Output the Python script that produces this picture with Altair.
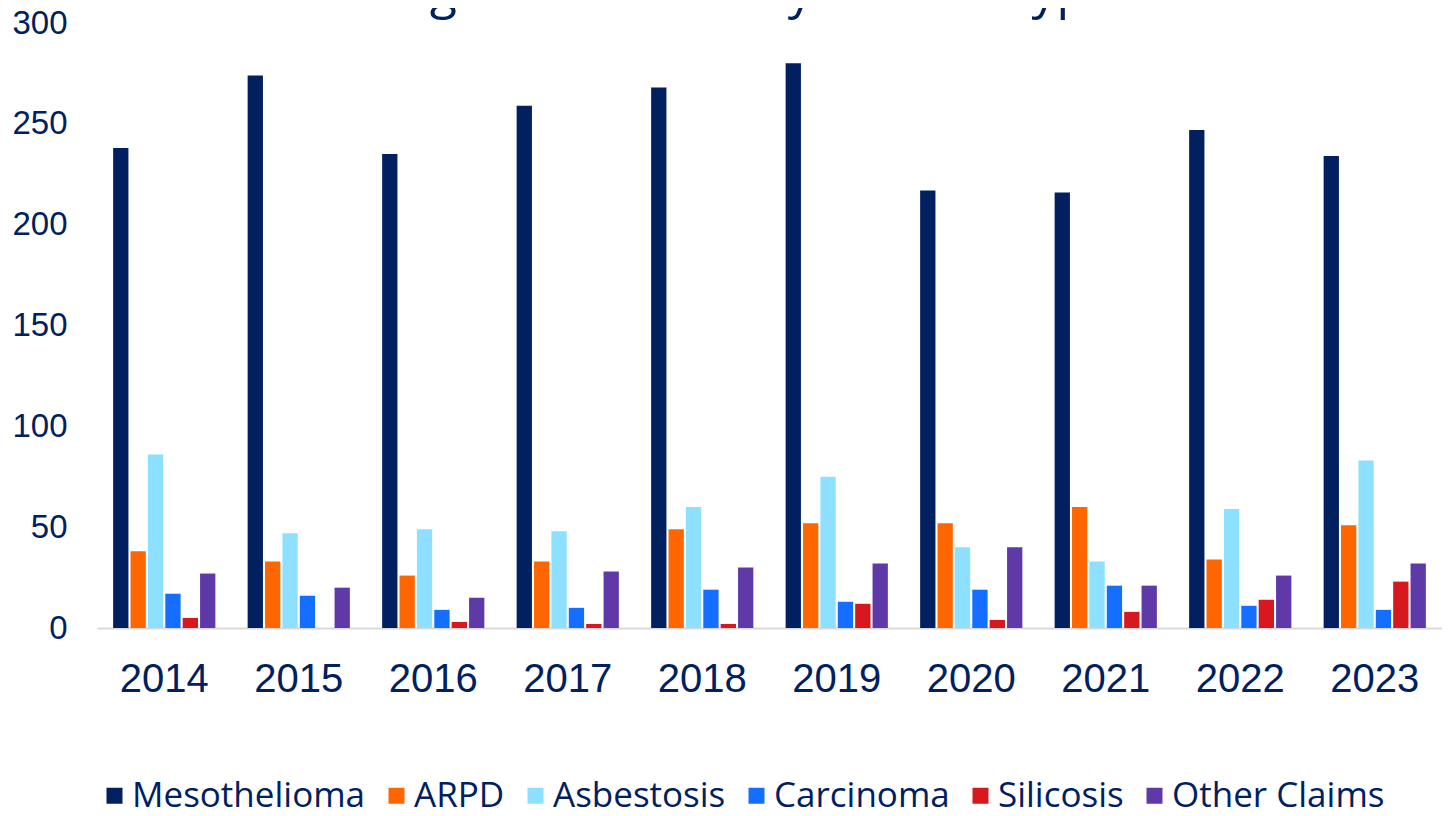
import altair as alt
import pandas as pd

TITLE = "Lodgment trends by disease types"
years = ["2014", "2015", "2016", "2017", "2018", "2019", "2020", "2021", "2022", "2023"]
series = ["Mesothelioma", "ARPD", "Asbestosis", "Carcinoma", "Silicosis", "Other Claims"]
colors = ["#002060", "#FF6600", "#8DE0FF", "#146EFF", "#D7181F", "#5F39A8"]

mesothelioma = [238, 274, 235, 259, 268, 280, 217, 216, 247, 234]
arpd = [38, 33, 26, 33, 49, 52, 52, 60, 34, 51]
asbestosis = [86, 47, 49, 48, 60, 75, 40, 33, 59, 83]
carcinoma = [17, 16, 9, 10, 19, 13, 19, 21, 11, 9]
silicosis = [5, 0, 3, 2, 2, 12, 4, 8, 14, 23]
other_claims = [27, 20, 15, 28, 30, 32, 40, 21, 26, 32]

values = [mesothelioma, arpd, asbestosis, carcinoma, silicosis, other_claims]
rows = []
for s, vals in zip(series, values):
    for y, v in zip(years, vals):
        rows.append({"Year": y, "Disease": s, "Count": v, "order": series.index(s)})
df = pd.DataFrame(rows)

TEXT = "#002060"

bars = alt.Chart(df).mark_bar().encode(
    x=alt.X("Year:N", sort=years,
            scale=alt.Scale(paddingInner=0.24, paddingOuter=0.12),
            axis=alt.Axis(title=None, labelAngle=0, labelFont="Liberation Sans",
                          labelFontSize=40, labelColor=TEXT, ticks=False,
                          labelPadding=31, domainColor="#D9D9D9", domainWidth=2)),
    xOffset=alt.XOffset("Disease:N", sort=series,
                        scale=alt.Scale(paddingInner=0.12, paddingOuter=0)),
    y=alt.Y("Count:Q", scale=alt.Scale(domain=[0, 300], nice=False),
            axis=alt.Axis(title=None, values=[0, 50, 100, 150, 200, 250, 300],
                          labelFont="Liberation Sans", labelFontSize=33,
                          labelColor=TEXT, ticks=False, domain=False, grid=False,
                          labelPadding=30)),
    color=alt.Color("Disease:N", sort=series,
                    scale=alt.Scale(domain=series, range=colors),
                    legend=alt.Legend(title=None, orient="none", direction="horizontal",
                                      legendX=0, legendY=755, symbolType="square",
                                      symbolSize=256, symbolStrokeWidth=0,
                                      labelFont="Open Sans", labelFontSize=35,
                                      labelColor=TEXT, labelLimit=400, labelOffset=0,
                                      columnPadding=13, padding=0)),
    order=alt.Order("order:Q"),
)

title_df = pd.DataFrame({"t": [TITLE]})
title = alt.Chart(title_df).mark_text(
    font="Open Sans", fontSize=50, color=TEXT, align="center", baseline="alphabetic"
).encode(text="t:N", x=alt.value(644), y=alt.value(-15))

chart = alt.layer(bars, title).properties(
    width=1345, height=605,
    autosize=alt.AutoSizeParams(type="none"),
    padding={"left": 89, "top": 15, "right": 0, "bottom": 180},
).configure_view(stroke=None)

chart.save("out.html", embed_options={"renderer": "svg", "actions": False})
